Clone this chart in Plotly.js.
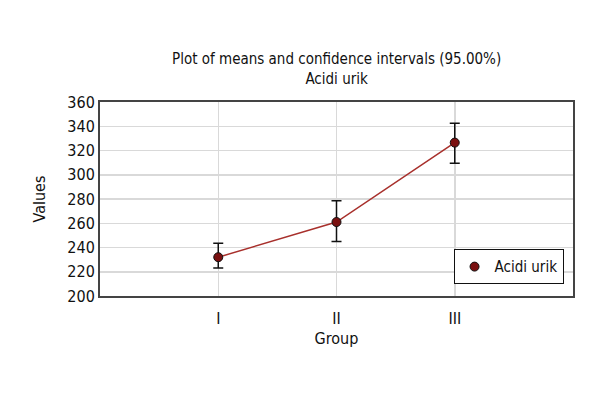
<!DOCTYPE html>
<html><head><meta charset="utf-8">
<script src="https://cdn.plot.ly/plotly-3.0.1.min.js"></script>
<style>body{margin:0;background:#fff}#c{width:600px;height:400px}</style>
</head><body><div id="c"></div>
<script>
const groups = ['I', 'II', 'III'];
const means = [232, 261, 326.5];
const upper = [243.5, 278.5, 342.5];
const lower = [223, 245, 309.5];
const yTicks = [200, 220, 240, 260, 280, 300, 320, 340, 360];

const F = '"DejaVu Sans Condensed", "Liberation Sans Narrow", sans-serif';
const lineTrace = {
  x: groups, y: means, type: 'scatter', mode: 'lines', showlegend: false, hoverinfo: 'skip',
  line: {color: '#a8302c', width: 1.5}
};
const pointTrace = {
  x: groups, y: means, type: 'scatter', mode: 'markers', name: 'Acidi urik',
  marker: {color: '#7a1010', size: 9, line: {color: '#111', width: 1}},
  error_y: {type: 'data', symmetric: false,
    array: upper.map((u, i) => u - means[i]),
    arrayminus: means.map((m, i) => m - lower[i]),
    color: '#111', thickness: 1.5, width: 5}
};
const layout = {
  width: 600, height: 400,
  margin: {l: 100, r: 27, t: 102, b: 104},
  paper_bgcolor: '#fff', plot_bgcolor: '#fff',
  font: {family: F, size: 15, color: '#111'},
  title: {text: 'Plot of means and confidence intervals (95.00%)<br>Acidi urik',
    x: 0.561, xanchor: 'center', y: 0.84, yanchor: 'middle', font: {family: F, size: 15, color: '#111'}},
  xaxis: {type: 'category', range: [-1, 3], showgrid: true, gridcolor: '#d9d9d9', gridwidth: 1.5,
    showline: true, linecolor: '#444', linewidth: 2, mirror: true,
    ticks: 'outside', ticklen: 7, tickcolor: 'rgba(0,0,0,0)',
    title: {text: 'Group', standoff: 6, font: {family: F, size: 16}}, tickfont: {family: F, size: 16}},
  yaxis: {range: [200, 360], tickvals: yTicks, showgrid: true, gridcolor: '#d9d9d9', gridwidth: 1.5,
    showline: true, linecolor: '#444', linewidth: 2, mirror: true, zeroline: false,
    ticks: '', title: {text: 'Values', standoff: 18, font: {family: F, size: 16}}, tickfont: {family: F, size: 16}},
  showlegend: true,
  legend: {x: 0.98, y: 0.06, xanchor: 'right', yanchor: 'bottom', bgcolor: '#fff',
    bordercolor: '#111', borderwidth: 1, font: {family: F, size: 15}, itemwidth: 30,
    tracegroupgap: 0}
};
Plotly.newPlot('c', [lineTrace, pointTrace], layout, {displayModeBar: false, staticPlot: true});
</script></body></html>
